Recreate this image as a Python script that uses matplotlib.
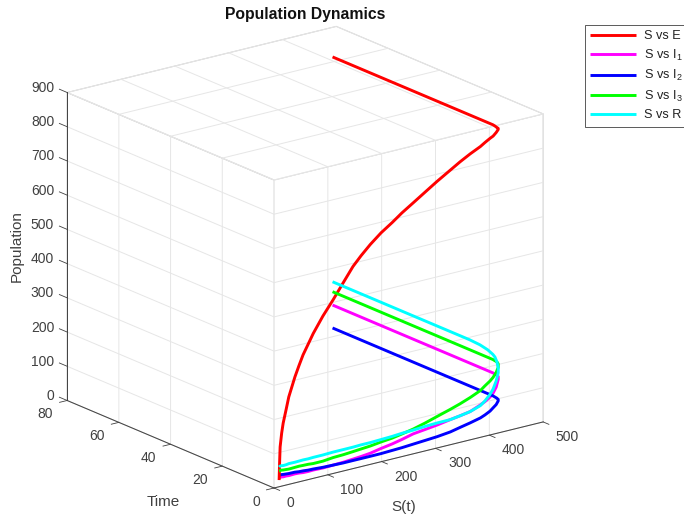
import matplotlib
matplotlib.use('Agg')
import matplotlib.pyplot as plt
from matplotlib.lines import Line2D
from matplotlib.transforms import IdentityTransform
from mpl_toolkits.mplot3d import proj3d

plt.rcParams['font.family'] = ['Liberation Sans', 'DejaVu Sans']
plt.rcParams['mathtext.fontset'] = 'custom'
plt.rcParams['mathtext.rm'] = 'Liberation Sans'
plt.rcParams['mathtext.default'] = 'regular'

# values, all curves share S and time
time = [0.1, 0.12, 0.13, 0.16, 0.2, 0.26, 0.32, 0.46, 0.54, 0.63, 0.74, 0.86, 1.07, 1.29, 1.5, 1.72, 1.9, 2.1, 2.33, 2.58, 2.79,
        3.03, 3.3, 3.56, 3.84, 4.06, 4.28, 4.5, 4.6, 4.71, 4.78, 4.84, 4.89, 5.3, 6, 7, 8, 10, 13, 17, 70]
S = [10, 11, 12, 15, 18, 24, 29, 41, 49, 57, 67, 77, 96, 116, 136, 155, 171, 189, 210, 232, 251,
     273, 297, 320, 346, 365, 385, 405, 414, 424, 430, 436, 440, 442, 443, 444, 445, 445, 445, 445, 445]
E = [19, 71, 115, 154, 182, 221, 254, 307, 337, 365, 392, 419, 462, 501, 543, 582, 607, 632, 657, 678, 698,
     718, 740, 761, 783, 799, 814, 827, 835, 843, 847, 855, 862, 863, 863, 864, 864, 864, 864, 864, 864]
I1 = [25, 25, 26, 26, 25, 25, 24, 24, 23, 21, 20, 20, 18, 18, 18, 19, 20, 22, 27, 31, 36,
      43, 46, 49, 54, 57, 61, 72, 78, 87, 96, 111, 132, 138, 139, 139, 139, 139, 139, 139, 139]
I2 = [34, 34, 33, 33, 32, 31, 30, 29, 27, 26, 24, 23, 20, 18, 16, 15, 14, 13, 12, 12, 12,
      13, 14, 15, 18, 23, 28, 34, 39, 46, 53, 60, 69, 71, 72, 72, 72, 72, 72, 72, 72]
I3 = [45, 45, 46, 46, 45, 44, 43, 43, 43, 42, 41, 39, 38, 40, 40, 41, 42, 43, 46, 48, 52,
      57, 65, 74, 84, 92, 102, 114, 124, 134, 142, 154, 167, 175, 178, 178, 178, 178, 178, 178, 178]
R = [57, 58, 59, 59, 58, 58, 59, 58, 58, 58, 57, 57, 56, 56, 55, 54, 54, 53, 53, 53, 54,
     54, 55, 55, 54, 57, 61, 70, 80, 95, 108, 129, 151, 163, 178, 189, 193, 200, 205, 207, 207]

series = [(E, '#ff0000', 'S vs E', 4), (I1, '#ff00ff', 'S vs I$_1$', 2), (I2, '#0000ff', 'S vs I$_2$', 3),
          (I3, '#00ff00', 'S vs I$_3$', 5), (R, '#00ffff', 'S vs R', 6)]

time_ticks = [0, 20, 40, 60, 80]
s_ticks = [0, 100, 200, 300, 400, 500]
pop_ticks = [0, 100, 200, 300, 400, 500, 600, 700, 800, 900]
tick_col = '#404040'

W, H = 684, 518
fig = plt.figure(figsize=(W / 100, H / 100), dpi=100)
side = 640
ax = fig.add_axes([0.0, 0.0, side / W, side / H], projection='3d', proj_type='ortho', computed_zorder=False)
ax.patch.set_visible(False)
ax.view_init(elev=-18.8, azim=37.3)
ax.set_xlim(0, 80, view_margin=0)
ax.set_ylim(0, 500, view_margin=0)
ax.set_zlim(0, 900, view_margin=0)
ax.set_box_aspect((341, 338, 325))

handles = []
for vals, col, lab, z in series:
    ln, = ax.plot(time, S, vals, color=col, lw=2.1, label=lab, zorder=z, solid_capstyle='butt')
    handles.append(ln)

ax.set_xticks(time_ticks)
ax.set_yticks(s_ticks)
ax.set_zticks(pop_ticks)
ax.set_xticklabels([''] * len(time_ticks))
ax.set_yticklabels([''] * len(s_ticks))
ax.set_zticklabels([''] * len(pop_ticks))
for axis in (ax.xaxis, ax.yaxis, ax.zaxis):
    axis.set_pane_color((1, 1, 1, 1))
    axis.pane.set_edgecolor('#c8c8c8')
    axis.pane.set_linewidth(0.7)
    axis.line.set_color(tick_col)
    axis.line.set_linewidth(0.7)
    axis._axinfo['grid']['color'] = '#e6e6e6'
    axis._axinfo['grid']['linewidth'] = 0.7
    axis._axinfo['tick']['inward_factor'] = 0
    axis._axinfo['tick']['outward_factor'] = 0
    axis._axinfo['tick']['linewidth'] = {True: 0, False: 0}
ax.xaxis.set_ticks_position('lower')
ax.yaxis.set_ticks_position('lower')


def to_px(x, y, z):
    u, v, _ = proj3d.proj_transform(x, y, z, ax.get_proj())
    return ax.transData.transform((u, v))


# fit the box onto the reference: 900 axis is 308 px tall, origin at (274, 488)
fig.canvas.draw()
a, b = to_px(80, 0, 0), to_px(80, 0, 900)
ax.set_box_aspect((341, 338, 325), zoom=308 / abs(b[1] - a[1]))
fig.canvas.draw()
o = to_px(0, 0, 0)
dx, dy = 274 - o[0], (H - 488) - o[1]
ax.set_position([dx / W, dy / H, side / W, side / H])
fig.canvas.draw()


def label_at(px, off_x, off_y, txt, ha, size=10):
    fig.text((px[0] + off_x) / W, (px[1] + off_y) / H, txt, fontsize=size, color=tick_col, ha=ha, va='center')


def stub(p, q):
    fig.add_artist(Line2D([p[0], q[0]], [p[1], q[1]], color=tick_col, lw=0.6, transform=IdentityTransform()))


# tick stubs run along the neighbouring axis, as in the reference
for v in pop_ticks:
    label_at(to_px(80, 0, v), -13, 4.5, str(v), 'right')
    stub(to_px(80, 0, v), to_px(83, 0, v))
for v in time_ticks:
    label_at(to_px(v, 0, 0), -14, -14, str(v), 'right')
    stub(to_px(v, 0, 0), to_px(v, -14, 0))
for v in s_ticks:
    label_at(to_px(0, v, 0), 12.5, -15, str(v), 'left')
    stub(to_px(0, v, 0), to_px(-2.2, v, 0))

fig.text(163.5 / W, 1 - 502 / H, 'Time', fontsize=11, color=tick_col, ha='center', va='center')
fig.text(404 / W, 1 - 507 / H, 'S(t)', fontsize=11, color=tick_col, ha='center', va='center')
fig.text(17 / W, 1 - 246.5 / H, 'Population', fontsize=11, color=tick_col, ha='center', va='center', rotation=90)
fig.text(305 / W, 1 - 15 / H, 'Population Dynamics', fontsize=11.3, fontweight='bold', ha='center', va='center', color='#111111')

leg = fig.legend(handles=handles, loc='upper left', bbox_to_anchor=(585 / W, 1 - 124 / H, 112 / W, 99 / H), mode='expand',
                 fontsize=9.2, fancybox=False, framealpha=1, edgecolor=tick_col, handlelength=3.6, handletextpad=0.6,
                 borderpad=0.42, labelspacing=0.42, borderaxespad=0)
leg.get_frame().set_linewidth(0.6)
for t in leg.get_texts():
    t.set_color('#222222')

fig.savefig('out.png', dpi=100)
